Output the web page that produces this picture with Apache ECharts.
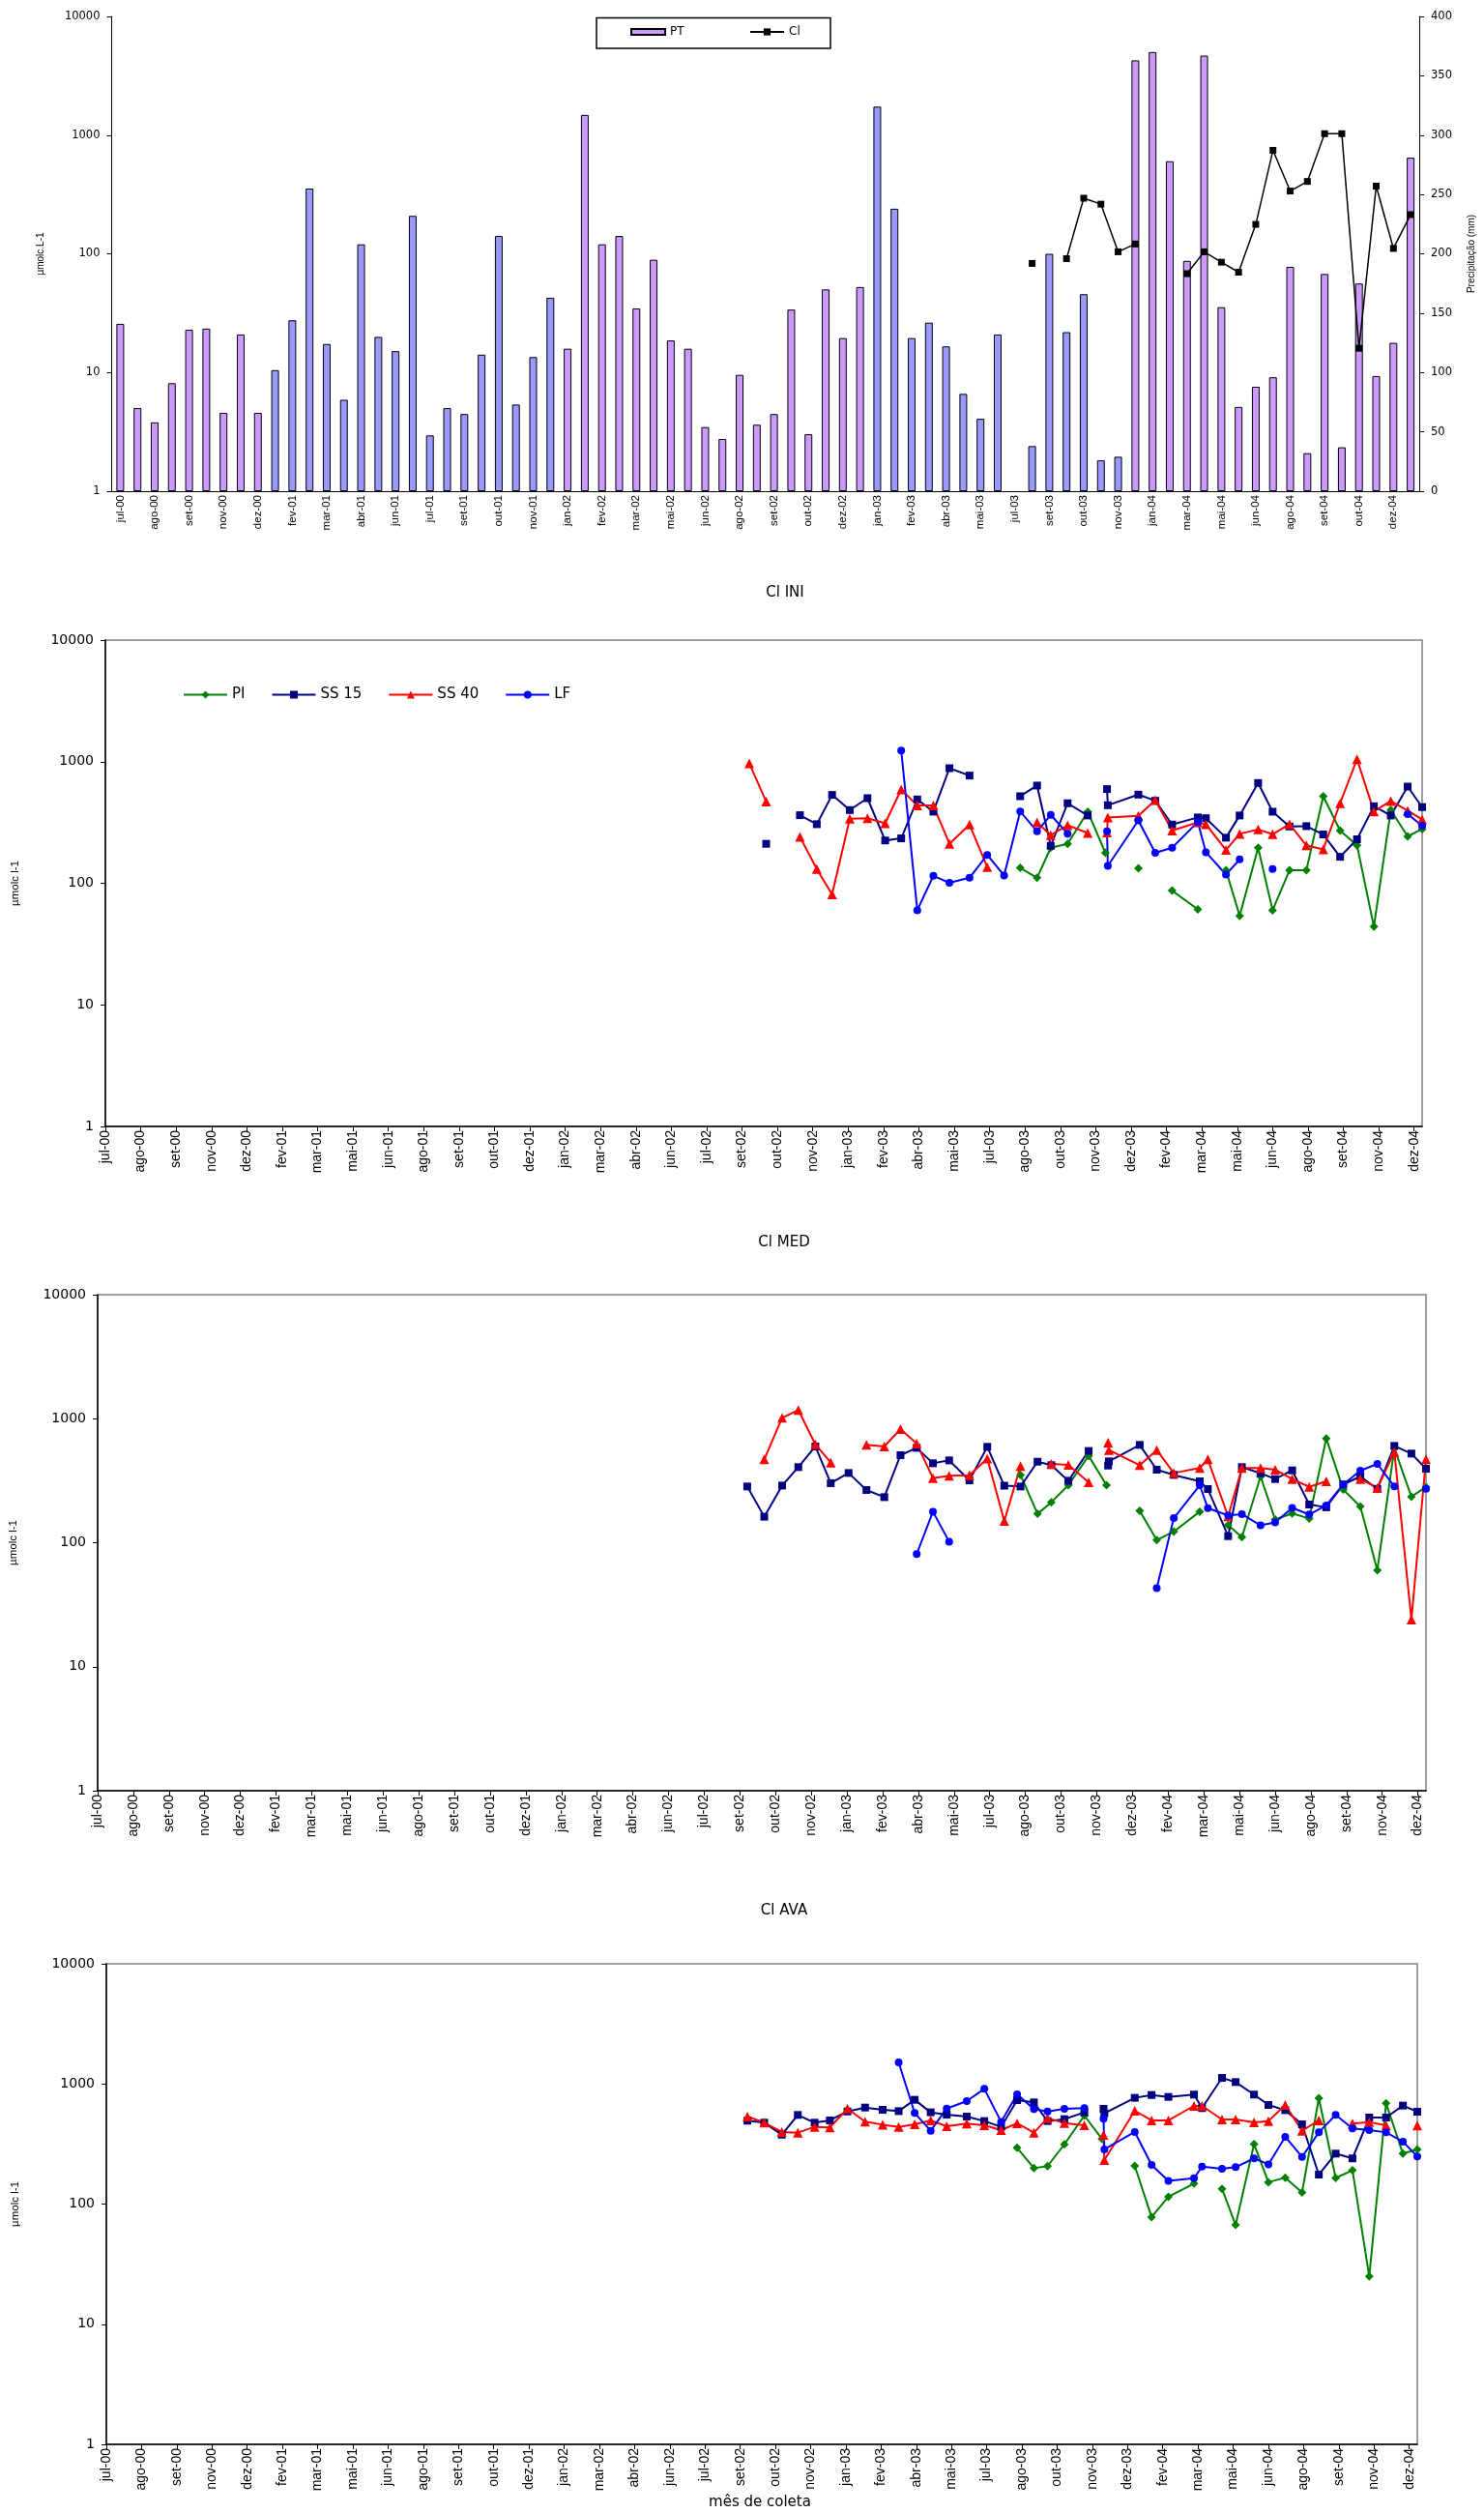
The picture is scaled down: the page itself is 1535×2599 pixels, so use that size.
<!DOCTYPE html>
<html><head><meta charset="utf-8">
<script src="https://cdn.jsdelivr.net/npm/echarts@6/dist/echarts.min.js"></script>
<style>html,body{margin:0;padding:0;background:#fff}#c{width:1535px;height:2599px}</style>
</head><body><div id="c"></div>
<script>
// ---------- Panel 1: precipitation (PT, mm) and Cl in rain ----------
const ptCategories = ['jul-00','jul-00','ago-00','ago-00','set-00','out-00','nov-00','nov-00','dez-00','jan-01','fev-01','fev-01','mar-01','abr-01','abr-01','mai-01','jun-01','jun-01','jul-01','ago-01','set-01','set-01','out-01','nov-01','nov-01','dez-01','jan-02','jan-02','fev-02','mar-02','mar-02','abr-02','mai-02','mai-02','jun-02','jul-02','ago-02','ago-02','set-02','set-02','out-02','nov-02','dez-02','dez-02','jan-03','fev-03','fev-03','mar-03','abr-03','abr-03','mai-03','jun-03','jul-03','ago-03','set-03','set-03','out-03','nov-03','nov-03','dez-03','jan-04','fev-04','mar-04','abr-04','mai-04','mai-04','jun-04','jul-04','ago-04','ago-04','set-04','out-04','out-04','nov-04','dez-04','dez-04'];
const ptPurple = [141,70,58,91,136,137,66,132,66,
  null,null,null,null,null,null,null,null,null,null,null,null,null,null,null,null,null,
  120,317,208,215,154,195,127,120,54,44,98,56,65,153,48,170,129,172,
  null,null,null,null,null,null,null,null,null,null,null,null,null,null,null,
  363,370,278,194,367,155,71,88,96,189,32,183,37,175,97,125,281];
const ptBlue = [null,null,null,null,null,null,null,null,null,
  102,144,255,124,77,208,130,118,232,47,70,65,115,215,73,113,163,
  null,null,null,null,null,null,null,null,null,null,null,null,null,null,null,null,null,null,
  324,238,129,142,122,82,61,132,null,38,200,134,166,26,29,
  null,null,null,null,null,null,null,null,null,null,null,null,null,null,null,null,null];
const clRain = [null,null,null,null,null,null,null,null,null,null,null,null,null,null,null,null,null,null,null,null,
  null,null,null,null,null,null,null,null,null,null,null,null,null,null,null,null,null,null,null,null,
  null,null,null,null,null,null,null,null,null,null,null,null,null,
  83,null,91,294,262,104,121,null,null,68,104,85,70,177,745,338,407,1028,1028,16,372,111,214];

// ---------- Panels 2-4: sampling dates and Cl series ----------
const sampleDates = ['2002-09-10','2002-10-01','2002-10-23','2002-11-12','2002-12-03','2002-12-22','2003-01-13','2003-02-04','2003-02-26','2003-03-18',
  '2003-04-07','2003-04-27','2003-05-17','2003-06-11','2003-07-03','2003-07-24','2003-08-13','2003-09-03','2003-09-20','2003-10-11',
  '2003-11-05','2003-11-27','2003-11-29','2003-11-30','2004-01-07','2004-01-28','2004-02-18','2004-03-21','2004-03-31','2004-04-25',
  '2004-05-12','2004-06-04','2004-06-22','2004-07-13','2004-08-03','2004-08-24','2004-09-14','2004-10-05','2004-10-26','2004-11-16',
  '2004-12-07','2004-12-25'];
const dateTickLabels = ['jul-00','ago-00','set-00','nov-00','dez-00','fev-01','mar-01','mai-01','jun-01','ago-01','set-01','out-01','dez-01','jan-02','mar-02','abr-02','jun-02','jul-02','set-02','out-02','nov-02','jan-03','fev-03','abr-03','mai-03','jul-03','ago-03','out-03','nov-03','dez-03','fev-04','mar-04','mai-04','jun-04','ago-04','set-04','nov-04','dez-04'];

const iniPI   = [null,null,null,null,null,null,null,null,null,null,null,null,null,null,null,null,134,111,196,211,388,178,null,null,133,null,87,61,null,128,54,196,60,128,128,520,271,205,44,400,243,279];
const iniSS15 = [null,211,null,363,306,533,400,501,225,234,489,388,884,769,null,null,520,636,203,455,361,null,595,438,536,477,304,348,343,237,361,668,388,293,295,252,165,230,430,361,624,423];
const iniSS40 = [969,469,null,241,131,81,339,343,311,591,436,436,211,304,136,null,null,317,249,300,259,null,262,348,358,483,271,317,306,188,255,277,253,306,205,190,455,1049,390,475,395,335];
const iniLF   = [null,null,null,null,null,null,null,null,null,1236,60,115,101,111,171,116,390,267,365,256,null,null,267,139,329,178,196,319,180,118,157,null,131,null,null,null,null,null,null,null,370,297];

const medPI   = [null,null,null,null,null,null,null,null,null,null,null,null,null,null,null,null,352,171,212,291,502,291,null,null,181,105,123,178,null,139,111,342,154,172,157,693,268,196,60,576,235,281];
const medSS15 = [284,162,289,407,597,302,365,266,233,508,582,437,461,318,593,288,284,450,422,316,549,null,419,453,615,388,352,313,271,113,407,363,326,383,203,193,295,342,272,604,523,395];
const medSS40 = [null,470,1016,1174,622,442,null,615,597,824,630,332,346,350,476,150,414,null,432,424,307,null,641,559,422,559,365,400,470,163,400,400,388,326,282,313,null,326,276,539,24,470];
const medLF   = [null,null,null,null,null,null,null,null,null,null,81,178,102,null,null,null,null,null,null,null,null,null,null,null,null,43,158,291,190,166,170,138,146,191,169,200,295,381,432,284,null,272];

const avaPI   = [null,null,null,null,null,null,null,null,null,null,null,null,null,null,null,null,294,199,207,314,545,349,null,null,208,78,115,148,null,134,67,316,152,166,125,761,165,191,25,689,263,285];
const avaSS15 = [494,476,378,552,476,497,590,636,609,594,738,580,555,535,491,439,733,702,491,509,580,null,621,569,766,809,780,815,629,1122,1036,815,668,605,461,176,263,240,525,525,660,587];
const avaSS40 = [535,476,398,393,439,434,624,485,458,439,461,497,444,467,453,413,470,393,519,473,453,null,376,232,598,497,497,656,656,506,506,479,491,668,408,497,null,467,482,450,null,450];
const avaLF   = [null,null,null,null,null,null,null,null,null,1510,573,408,624,720,910,484,819,617,590,621,629,null,513,285,398,212,156,164,205,197,203,240,214,363,247,395,552,426,413,395,331,249];

// ---------- helpers ----------
const DAY0 = Date.UTC(2000, 6, 1);
const TICK_DAYS = 44;
function dayOf(s) { const p = s.split('-').map(Number); return Math.round((Date.UTC(p[0], p[1] - 1, p[2]) - DAY0) / 86400000); }
const sampleDays = sampleDates.map(dayOf);
const xMax = sampleDays[sampleDays.length - 1];
function pairs(vals) { return vals.map((v, i) => [sampleDays[i], v == null ? '-' : v]); }

const styleOf = {
  'PI':    { color: '#008000', symbol: 'diamond',  symbolSize: 9 },
  'SS 15': { color: '#000080', symbol: 'rect',     symbolSize: 8 },
  'SS 40': { color: '#FF0000', symbol: 'triangle', symbolSize: 10 },
  'LF':    { color: '#0000FF', symbol: 'circle',   symbolSize: 8 }
};

const panels = [
  { grid: { left: 109, right: 64, top: 662, height: 503 }, nameGap: 87, series: { 'PI': iniPI, 'SS 15': iniSS15, 'SS 40': iniSS40, 'LF': iniLF } },
  { grid: { left: 100, right: 60, top: 1339, height: 513 }, nameGap: 81, series: { 'PI': medPI, 'SS 15': medSS15, 'SS 40': medSS40, 'LF': medLF } },
  { grid: { left: 110, right: 69, top: 2031, height: 497 }, nameGap: 88, series: { 'PI': avaPI, 'SS 15': avaSS15, 'SS 40': avaSS40, 'LF': avaLF } }
];

const black = '#000';
const grids = [{ left: 115.5, right: 64, top: 17, height: 491, show: false }];
const xAxes = [{
  type: 'category', gridIndex: 0, data: ptCategories, boundaryGap: true,
  axisLine: { lineStyle: { color: black, width: 1 } },
  axisTick: { interval: 0, length: 6, lineStyle: { color: black } },
  axisLabel: { interval: 1, rotate: 90, margin: 4, color: black, fontFamily: 'Liberation Sans', fontSize: 11.5 }
}];
const yAxes = [{
  type: 'log', logBase: 10, gridIndex: 0, min: 1, max: 10000, position: 'left',
  axisLine: { show: true, lineStyle: { color: black, width: 1 } },
  axisTick: { show: true, length: 5, lineStyle: { color: black } },
  axisLabel: { color: black, fontFamily: 'DejaVu Sans', fontSize: 11.5, margin: 12, formatter: v => String(Math.round(v)) },
  splitLine: { show: false },
  name: 'µmolc.L-1', nameLocation: 'middle', nameRotate: 90, nameGap: 68,
  nameTextStyle: { color: black, fontFamily: 'Liberation Sans', fontSize: 10 }
}, {
  type: 'value', gridIndex: 0, min: 0, max: 400, interval: 50, position: 'right',
  axisLine: { show: true, lineStyle: { color: black, width: 1 } },
  axisTick: { show: true, length: 5, lineStyle: { color: black } },
  axisLabel: { color: black, fontFamily: 'DejaVu Sans', fontSize: 11.5, margin: 12 },
  splitLine: { show: false },
  name: 'Precipitação (mm)', nameLocation: 'middle', nameRotate: 90, nameGap: 49,
  nameTextStyle: { color: black, fontFamily: 'Liberation Sans', fontSize: 10 }
}];
const series = [
  { name: 'PT', type: 'bar', xAxisIndex: 0, yAxisIndex: 1, data: ptPurple, barWidth: 8, barGap: '-100%',
    itemStyle: { color: '#CC99FF', borderColor: black, borderWidth: 1 } },
  { name: 'PT-b', type: 'bar', xAxisIndex: 0, yAxisIndex: 1, data: ptBlue, barWidth: 8, barGap: '-100%',
    itemStyle: { color: '#9999FF', borderColor: black, borderWidth: 1 } },
  { name: 'Cl', type: 'line', xAxisIndex: 0, yAxisIndex: 0, data: clRain, connectNulls: false,
    symbol: 'rect', symbolSize: 7, itemStyle: { color: black }, lineStyle: { color: black, width: 1.5 }, z: 5 }
];

panels.forEach((p, k) => {
  const g = k + 1;
  grids.push(Object.assign({ show: true, borderColor: '#808080', borderWidth: 1.5 }, p.grid));
  xAxes.push({
    type: 'value', gridIndex: g, min: 0, max: xMax, interval: TICK_DAYS,
    axisLine: { show: true, onZero: false, lineStyle: { color: black, width: 1.5 } },
    axisTick: { show: true, length: 5, lineStyle: { color: black } },
    axisLabel: { rotate: 90, margin: 4, color: black, fontFamily: 'Liberation Sans', fontSize: 14, showMaxLabel: false,
      formatter: v => (v % TICK_DAYS === 0 ? (dateTickLabels[v / TICK_DAYS] || '') : '') },
    splitLine: { show: false }
  });
  yAxes.push({
    type: 'log', logBase: 10, gridIndex: g, min: 1, max: 10000,
    axisLine: { show: true, lineStyle: { color: black, width: 1.5 } },
    axisTick: { show: true, length: 5, lineStyle: { color: black } },
    axisLabel: { color: black, fontFamily: 'DejaVu Sans', fontSize: 14, margin: 12, formatter: v => String(Math.round(v)) },
    splitLine: { show: false },
    name: 'µmolc l-1', nameLocation: 'middle', nameRotate: 90, nameGap: p.nameGap,
    nameTextStyle: { color: black, fontFamily: 'Liberation Sans', fontSize: 11.5 }
  });
  ['PI', 'SS 15', 'SS 40', 'LF'].forEach(name => {
    const st = styleOf[name];
    series.push({
      name: name, type: 'line', xAxisIndex: g, yAxisIndex: g + 1, data: pairs(p.series[name]),
      connectNulls: false, symbol: st.symbol, symbolSize: st.symbolSize,
      itemStyle: { color: st.color }, lineStyle: { color: st.color, width: 2 }
    });
  });
});

const txt = (x, y, text, size) => ({ type: 'text', x: x, y: y, style: { text: text, fill: black, font: size + 'px "DejaVu Sans"', textAlign: 'center', textVerticalAlign: 'middle' } });

const option = {
  animation: false,
  backgroundColor: '#fff',
  grid: grids, xAxis: xAxes, yAxis: yAxes, series: series,
  legend: [
    { data: [{ name: 'PT', icon: 'rect' }], left: 652, top: 27, padding: 0, itemWidth: 35, itemHeight: 6,
      textStyle: { color: black, fontFamily: 'DejaVu Sans', fontSize: 12 }, selectedMode: false },
    { data: ['Cl'], left: 775, top: 27, padding: 0, itemWidth: 35, itemHeight: 9,
      textStyle: { color: black, fontFamily: 'DejaVu Sans', fontSize: 12 }, selectedMode: false },
    { data: ['PI', 'SS 15', 'SS 40', 'LF'], left: 189, top: 711, padding: 0, itemWidth: 45, itemHeight: 10, itemGap: 27,
      textStyle: { color: black, fontFamily: 'DejaVu Sans', fontSize: 15 }, selectedMode: false }
  ],
  graphic: [
    { type: 'rect', shape: { x: 617, y: 18.5, width: 242, height: 31.5 }, style: { fill: '#fff', stroke: black, lineWidth: 1.5 }, z: -1 },
    txt(812, 613, 'Cl INI', 15),
    txt(811, 1285, 'Cl MED', 15),
    txt(811, 1976, 'Cl AVA', 15),
    txt(786, 2588, 'mês de coleta', 15)
  ]
};

const chart = echarts.init(document.getElementById('c'), null, { renderer: 'canvas' });
chart.setOption(option);
</script>
</body></html>
